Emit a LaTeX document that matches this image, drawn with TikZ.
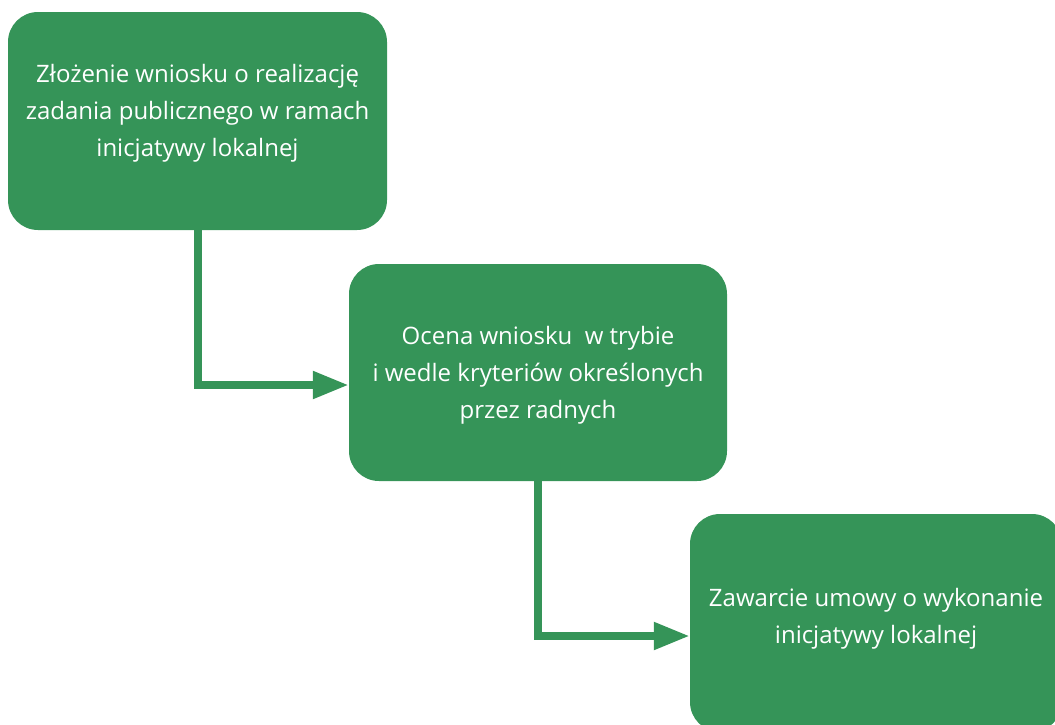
\documentclass[tikz,border=0pt]{standalone}
\usepackage{fontspec}
\setmainfont{Open Sans}
\usetikzlibrary{arrows.meta,calc}
\definecolor{gr}{RGB}{53,148,88}
\begin{document}
\begin{tikzpicture}[x=1pt,y=-1pt,
  box/.style={draw=none,fill=gr,rounded corners=30pt,inner sep=0pt},
  txt/.style={text=white,align=center,font=\fontsize{24}{37}\selectfont,inner sep=0pt},
  conn/.style={draw=gr,line width=8pt,-{Triangle[length=36pt,width=26pt]}}]
\clip (0,0) rectangle (1055,724);
\useasboundingbox (0,0) rectangle (1055,724);
\node[box,minimum width=379pt,minimum height=218pt] (b1) at (197.5,121) {};
\node[box,minimum width=378pt,minimum height=217pt] (b2) at (538,372.5) {};
\node[box,minimum width=372pt,minimum height=218pt] (b3) at (876,623) {};
\node[txt] (t1) at (197.5,113) {Złożenie wniosku o realizację\\zadania publicznego w ramach\\inicjatywy lokalnej};
\node[txt] (t2) at (538,375) {Ocena wniosku\ \ w trybie\\i wedle kryteriów określonych\\przez radnych};
\node[txt] (t3) at (876,619) {Zawarcie umowy o wykonanie\\inicjatywy lokalnej};
\draw[conn] ([yshift=4pt]b1.south) |- ([yshift=-12.5pt]b2.west);
\draw[conn] ([yshift=4pt]b2.south) |- ([yshift=-13pt]b3.west);
\end{tikzpicture}
\end{document}
